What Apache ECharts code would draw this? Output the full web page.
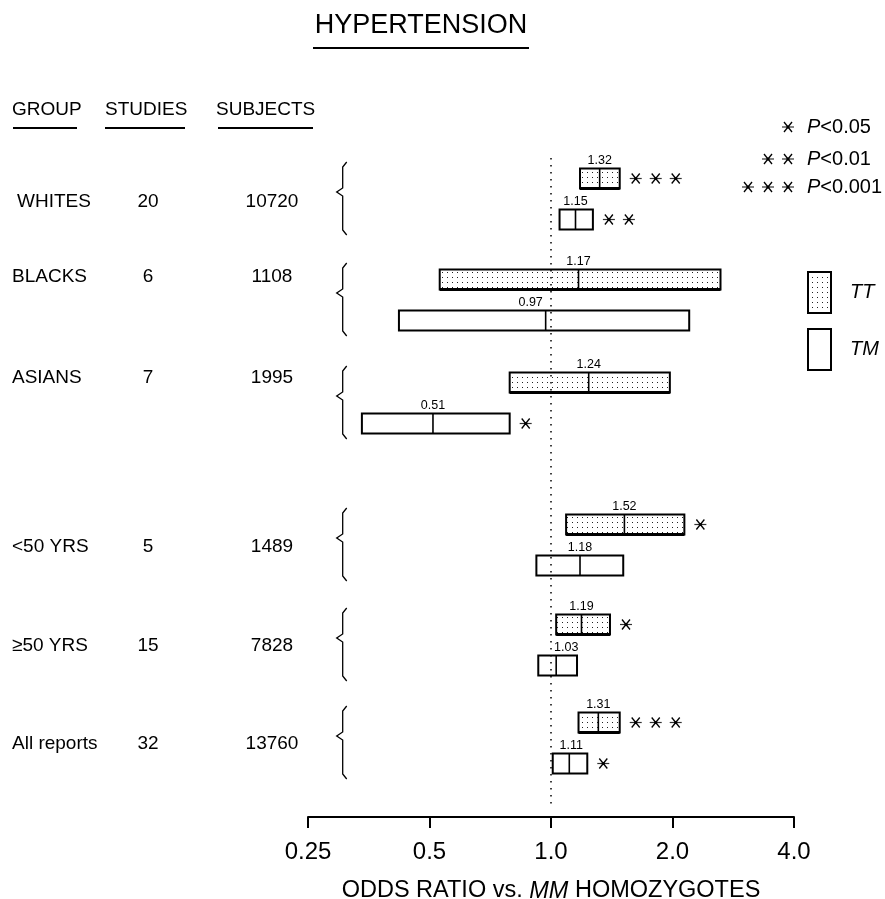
<!DOCTYPE html>
<html><head><meta charset="utf-8">
<script src="https://cdn.jsdelivr.net/npm/echarts@6/dist/echarts.min.js"></script>
<style>html,body{margin:0;padding:0;background:#fff}#c{width:885px;height:899px}</style>
</head><body><div id="c"></div>
<script>
// ---------- data ----------
const groups   = ['WHITES', 'BLACKS', 'ASIANS', '<50 YRS', '\u226550 YRS', 'All reports'];
const studies  = [20, 6, 7, 5, 15, 32];
const subjects = [10720, 1108, 1995, 1489, 7828, 13760];
const ttOR   = [1.32, 1.17, 1.24, 1.52, 1.19, 1.31];
const ttLow  = [1.18, 0.53, 0.79, 1.09, 1.03, 1.17];
const ttHigh = [1.48, 2.63, 1.97, 2.14, 1.40, 1.48];
const tmOR   = [1.15, 0.97, 0.51, 1.18, 1.03, 1.11];
const tmLow  = [1.05, 0.42, 0.34, 0.92, 0.93, 1.01];
const tmHigh = [1.27, 2.20, 0.79, 1.51, 1.16, 1.23];
const ttStars = [3, 0, 0, 1, 1, 3];
const tmStars = [2, 0, 1, 0, 0, 1];
const xTicks = [0.25, 0.5, 1, 2, 4];
const xTickLabels = ['0.25', '0.5', '1.0', '2.0', '4.0'];
const refValue = 1.0;

// ---------- layout ----------
const groupY  = [199, 300, 403, 545, 645, 743];
const labelDy = [3, -23, -25, 2, 1, 1];
const labelX  = [17, 12, 12, 12, 12, 12];
const ttLabelShift = [0, 0, 0, 0, 0, 0];
const tmLabelShift = [0, -15, 0, 0, 10, 2];
const ROW = 20.5, BOX_H = 20;
const REG = '"Liberation Sans", Arial, sans-serif';
const TXT = '19px ' + REG;

const pc = document.createElement('canvas'); pc.width = 5; pc.height = 5;
const pctx = pc.getContext('2d');
pctx.fillStyle = '#fff'; pctx.fillRect(0, 0, 5, 5);
pctx.fillStyle = '#222'; pctx.fillRect(2, 2, 1, 1);
const dotFill = () => ({ image: pc, repeat: 'repeat' });

function star(cx, cy) {
  return [
    { type: 'line', shape: { x1: cx - 6, y1: cy, x2: cx + 6, y2: cy }, style: { stroke: '#333', lineWidth: 1.2 } },
    { type: 'line', shape: { x1: cx - 4, y1: cy - 5, x2: cx + 4, y2: cy + 5 }, style: { stroke: '#000', lineWidth: 1.3 } },
    { type: 'line', shape: { x1: cx + 4, y1: cy - 5, x2: cx - 4, y2: cy + 5 }, style: { stroke: '#000', lineWidth: 1.3 } },
    { type: 'circle', shape: { cx: cx, cy: cy, r: 1.6 }, style: { fill: '#000' } }
  ];
}

const barData = [];
groups.forEach((g, i) => {
  barData.push([ttLow[i], ttHigh[i], ttOR[i], groupY[i] - ROW, 0, ttStars[i], ttLabelShift[i]]);
  barData.push([tmLow[i], tmHigh[i], tmOR[i], groupY[i] + ROW, 1, tmStars[i], tmLabelShift[i]]);
});
const groupData = groups.map((g, i) => [refValue, groupY[i], i]);

function renderBar(params, api) {
  const lo = api.coord([api.value(0), api.value(3)]);
  const hi = api.coord([api.value(1), api.value(3)]);
  const md = api.coord([api.value(2), api.value(3)]);
  const top = lo[1] - BOX_H / 2;
  const isTT = api.value(4) === 0;
  const ch = [
    { type: 'rect', shape: { x: lo[0], y: top, width: hi[0] - lo[0], height: BOX_H },
      style: { fill: isTT ? dotFill() : '#fff', stroke: '#000', lineWidth: 2 } },
    { type: 'line', shape: { x1: md[0], y1: top, x2: md[0], y2: top + BOX_H }, style: { stroke: '#000', lineWidth: 1.6 } },
    { type: 'text', style: { text: api.value(2).toFixed(2), x: md[0] + api.value(6), y: top - 1, align: 'center', verticalAlign: 'bottom', font: '12.5px ' + REG, fill: '#000' } }
  ];
  if (isTT) ch.push({ type: 'line', shape: { x1: lo[0], y1: top + BOX_H, x2: hi[0], y2: top + BOX_H }, style: { stroke: '#000', lineWidth: 3 } });
  const n = api.value(5);
  for (let k = 0; k < n; k++) ch.push(...star(hi[0] + 16 + 20 * k, lo[1]));
  return { type: 'group', children: ch };
}

function renderGroup(params, api) {
  const cy = api.coord([api.value(0), api.value(1)])[1];
  const i = api.value(2);
  const bx = params.coordSys.x + 34.7;
  const tip = cy - 7;
  const ty = cy + labelDy[i];
  return { type: 'group', children: [
    { type: 'polyline', shape: { points: [[bx + 4, cy - 37], [bx, cy - 32], [bx, tip - 4], [bx - 6, tip], [bx, tip + 4], [bx, cy + 31], [bx + 4, cy + 36]] },
      style: { stroke: '#000', lineWidth: 1.3, fill: null } },
    { type: 'text', style: { text: groups[i], x: labelX[i], y: ty, align: 'left', verticalAlign: 'middle', font: TXT, fill: '#000' } },
    { type: 'text', style: { text: String(studies[i]), x: 148, y: ty, align: 'center', verticalAlign: 'middle', font: TXT, fill: '#000' } },
    { type: 'text', style: { text: String(subjects[i]), x: 272, y: ty, align: 'center', verticalAlign: 'middle', font: TXT, fill: '#000' } }
  ] };
}

const graphics = [
  { type: 'text', style: { text: 'HYPERTENSION', x: 421, y: 26, align: 'center', verticalAlign: 'middle', font: '27px ' + REG, fill: '#000' } },
  { type: 'line', shape: { x1: 313, y1: 48, x2: 529, y2: 48 }, style: { stroke: '#000', lineWidth: 2 } },
  { type: 'text', style: { text: 'GROUP', x: 12, y: 110, align: 'left', verticalAlign: 'middle', font: TXT, fill: '#000' } },
  { type: 'text', style: { text: 'STUDIES', x: 105, y: 110, align: 'left', verticalAlign: 'middle', font: TXT, fill: '#000' } },
  { type: 'text', style: { text: 'SUBJECTS', x: 216, y: 110, align: 'left', verticalAlign: 'middle', font: TXT, fill: '#000' } },
  { type: 'line', shape: { x1: 13, y1: 128, x2: 77, y2: 128 }, style: { stroke: '#000', lineWidth: 2 } },
  { type: 'line', shape: { x1: 105, y1: 128, x2: 185, y2: 128 }, style: { stroke: '#000', lineWidth: 2 } },
  { type: 'line', shape: { x1: 218, y1: 128, x2: 313, y2: 128 }, style: { stroke: '#000', lineWidth: 2 } }
];
const pRows = [['<0.05', 1, 127], ['<0.01', 2, 159], ['<0.001', 3, 187]];
pRows.forEach(([t, n, y]) => {
  for (let k = 0; k < n; k++) star(788 - 20 * k, y).forEach(e => graphics.push(e));
  graphics.push({ type: 'text', style: { text: '{i|P}{n|' + t + '}', x: 807, y: y, align: 'left', verticalAlign: 'middle',
    rich: { i: { font: 'italic 20px ' + REG, fill: '#000' }, n: { font: '20px ' + REG, fill: '#000' } } } });
});
graphics.push(
  { type: 'rect', shape: { x: 808, y: 272, width: 23, height: 41 }, style: { fill: dotFill(), stroke: '#000', lineWidth: 2 } },
  { type: 'text', style: { text: 'TT', x: 850, y: 292, align: 'left', verticalAlign: 'middle', font: 'italic 20px ' + REG, fill: '#000' } },
  { type: 'rect', shape: { x: 808, y: 329, width: 23, height: 41 }, style: { fill: '#fff', stroke: '#000', lineWidth: 2 } },
  { type: 'text', style: { text: 'TM', x: 850, y: 349, align: 'left', verticalAlign: 'middle', font: 'italic 20px ' + REG, fill: '#000' } }
);

const chart = echarts.init(document.getElementById('c'), null, { renderer: 'canvas' });
chart.setOption({
  animation: false,
  backgroundColor: '#fff',
  grid: { left: 308, right: 91, top: 100, bottom: 82, containLabel: false, outerBoundsMode: 'none' },
  xAxis: {
    type: 'log', logBase: 2, min: xTicks[0], max: xTicks[xTicks.length - 1], interval: 1,
    splitLine: { show: false },
    axisLine: { show: true, lineStyle: { color: '#000', width: 2 } },
    axisTick: { show: true, length: 11, lineStyle: { color: '#000', width: 2 } },
    axisLabel: { show: true, margin: 23, color: '#000', fontFamily: REG, fontSize: 24, showMinLabel: true, showMaxLabel: true,
      formatter: v => { for (let k = 0; k < xTicks.length; k++) if (Math.abs(Math.log2(v) - Math.log2(xTicks[k])) < 1e-6) return xTickLabels[k]; return ''; } },
    name: '{n|ODDS RATIO vs. }{i|MM}{n| HOMOZYGOTES}',
    nameLocation: 'middle', nameGap: 62,
    nameTextStyle: { rich: { n: { fontFamily: REG, fontSize: 23.5, color: '#000' }, i: { fontFamily: REG, fontSize: 23.5, fontStyle: 'italic', color: '#000' } } }
  },
  yAxis: { type: 'value', min: 100, max: 817, inverse: true, show: false },
  series: [
    { type: 'line', data: [[refValue, 158], [refValue, 808]], symbol: 'none', silent: true,
      lineStyle: { color: '#000', width: 1.5, type: [1.5, 5.5] } },
    { type: 'custom', renderItem: renderGroup, data: groupData, encode: { x: 0, y: 1 }, silent: true, clip: false },
    { type: 'custom', renderItem: renderBar, data: barData, encode: { x: [0, 1, 2], y: 3 }, silent: true, clip: false }
  ],
  graphic: graphics
});
</script></body></html>
